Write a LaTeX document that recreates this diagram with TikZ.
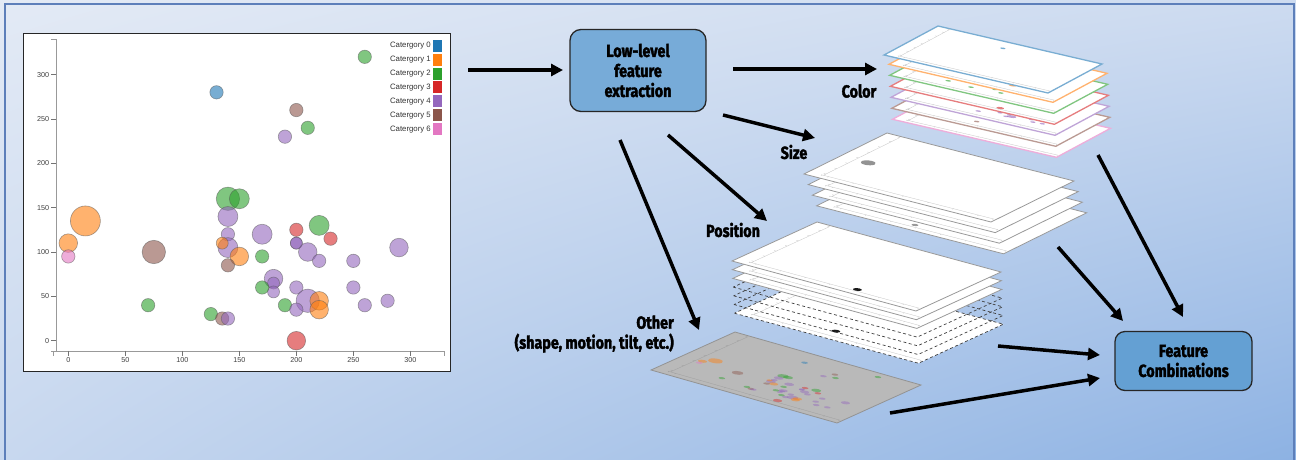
\documentclass[tikz,border=0pt]{standalone}
\usepackage{fontspec}
\setmainfont{Liberation Sans}
\newfontfamily\labfont[FakeStretch=0.82, FakeBold=2]{Fira Sans}
\usetikzlibrary{arrows.meta,shadings}
\definecolor{c0}{HTML}{1F77B4}
\definecolor{c1}{HTML}{FF7F0E}
\definecolor{c2}{HTML}{2CA02C}
\definecolor{c3}{HTML}{D62728}
\definecolor{c4}{HTML}{9467BD}
\definecolor{c5}{HTML}{8C564B}
\definecolor{c6}{HTML}{E377C2}
\definecolor{bgUL}{HTML}{E3EAF5}
\definecolor{bgUR}{HTML}{CDDBF0}
\definecolor{bgLL}{HTML}{C8D8EF}
\definecolor{bgLR}{HTML}{8DB2E3}
\definecolor{framec}{HTML}{5D7FBA}
\definecolor{boxA}{HTML}{77ABD8}
\definecolor{boxB}{HTML}{64A0D3}
\tikzset{
 arr/.style={line width=3.5pt, -{Triangle[length=12pt,width=12pt]}},
 flowbox/.style={draw=black!85, line width=1.3pt, rounded corners=11pt, align=center, inner sep=0pt, font=\labfont\bfseries\fontsize{17.5}{20}\selectfont},
 lab/.style={font=\labfont\bfseries\fontsize{17.5}{20}\selectfont, align=center, inner sep=0pt},
 datacoords/.style={shift={(0.10609,0.08964)}, x={(0.0026728,0)}, y={(0,0.0026234)}},
 ticklab/.style={font=\fontsize{7.2}{8}\selectfont, text=black!75, inner sep=0pt},
 leglab/.style={font=\fontsize{7.8}{9}\selectfont, text=black!80, inner sep=0pt, anchor=east},
 dashsheet/.style={draw=black!75, line width=0.7pt, dash pattern=on 3pt off 2.5pt},
 plainsheet/.style={fill=white, draw=gray!80, line width=0.8pt},
}
% data points: x, y, radius (px), category
\newcommand\allpts{%
\pnt{130}{280}{6.7}{0}\pnt{260}{320}{6.7}{2}\pnt{200}{260}{6.7}{5}\pnt{210}{240}{6.7}{2}%
\pnt{190}{230}{6.7}{4}\pnt{140}{160}{11.7}{2}\pnt{150}{160}{10}{2}\pnt{140}{140}{10}{4}%
\pnt{15}{135}{15}{1}\pnt{0}{110}{9.3}{1}\pnt{0}{95}{6.7}{6}\pnt{75}{100}{11.7}{5}%
\pnt{140}{120}{6.7}{4}\pnt{140}{105}{10}{4}\pnt{135}{110}{6}{1}\pnt{150}{95}{9.3}{1}%
\pnt{140}{85}{6.7}{5}\pnt{170}{95}{6.7}{2}\pnt{170}{120}{10}{4}\pnt{200}{125}{6.7}{3}%
\pnt{200}{110}{6}{4}\pnt{200}{110}{6}{4}\pnt{220}{130}{10}{2}\pnt{230}{115}{6.7}{3}%
\pnt{210}{100}{9.3}{4}\pnt{220}{90}{6.7}{4}\pnt{250}{90}{6.7}{4}\pnt{290}{105}{9.3}{4}%
\pnt{180}{70}{9.3}{4}\pnt{180}{65}{6}{4}\pnt{180}{55}{6}{4}\pnt{170}{60}{6.7}{2}%
\pnt{200}{60}{6.7}{4}\pnt{210}{45}{11.7}{4}\pnt{220}{45}{9.3}{1}\pnt{220}{35}{9.3}{1}%
\pnt{190}{40}{6.7}{2}\pnt{200}{35}{6.7}{4}\pnt{250}{60}{6.7}{4}\pnt{260}{40}{6.7}{4}%
\pnt{280}{45}{6.7}{4}\pnt{70}{40}{6.7}{2}\pnt{125}{30}{6.7}{2}\pnt{135}{25}{6.7}{5}%
\pnt{140}{25}{6.7}{4}\pnt{200}{0}{9.3}{3}}
\newcommand\pntmain[4]{\filldraw[fill=c#4, fill opacity=.6, draw=black!65, draw opacity=.55, line width=.6pt] (#1,#2) ellipse[x radius=#3/1.1413, y radius=#3/0.8867];}
\newcommand\pntcat[4]{\ifnum#4=\curcat\relax\fill[c#4, fill opacity=.6] (#1,#2) ellipse[x radius=#3/1.1413, y radius=#3/0.8867];\fi}
\newcommand\pntother[4]{\fill[c#4, fill opacity=.45] (#1,#2) ellipse[x radius=#3/1.1413, y radius=#3/0.8867];}
\newcommand\blob[4]{\fill[#4] (#1,#2) ellipse[x radius=#3/1.1413, y radius=#3/0.8867];}
\newcommand\faintaxes[1][gray!45]{%
 \draw[#1, line width=0.3pt] (-15.16,339.1) -- (-10.78,339.1) -- (-10.78,-11.6) -- (-15.16,-11.6)
   (-13,-17.2) -- (-13,-11.6) -- (330.1,-11.6) -- (330.1,-17.2);
 \foreach \t in {0,50,...,300}{\draw[#1, line width=0.3pt] (\t,-11.6) -- (\t,-17.2) (-10.78,\t) -- (-15.16,\t);}}
% sheet: Lx, Ly (px), e1 (canvas), e2 (canvas), sheet style, data content
\newcommand\sheet[8]{%
 \begin{scope}[shift={(#1,#2)}, x={(#3pt,#4pt)}, y={(#5pt,#6pt)}]
 \path[#7] (0,0) -- (1,0) -- (1,1) -- (0,1) -- cycle;
 \begin{scope}[datacoords]#8\end{scope}
 \end{scope}}
\newcommand\colsheet[3]{\sheet{#1}{#2}{164}{-38}{54}{29}{fill=white, draw=c#3!60, line width=1.3pt}{\faintaxes\def\curcat{#3}\let\pnt\pntcat\allpts}}
\begin{document}
\begin{tikzpicture}[x=1pt,y=-1pt]
\useasboundingbox (0,0) rectangle (1296,459);
\shade[upper left=bgUL, upper right=bgUR, lower left=bgLL, lower right=bgLR] (0,0) rectangle (1296,459);
\draw[draw=framec, line width=1.2pt] (5,4) rectangle (1294,470);

% ---------- scatter plot panel ----------
\node[draw=black!85, line width=1.3pt, fill=white, minimum width=427pt, minimum height=338pt, inner sep=0pt, anchor=north west] (panel) at (23,33) {};
\begin{scope}[shift={(23,371)}, x={(427pt,0pt)}, y={(0pt,338pt)}, datacoords]
 \draw[black!40, line width=0.8pt] (-15.16,339.1) -- (-10.78,339.1) -- (-10.78,-11.6) -- (-15.16,-11.6)
   (-13,-17.2) -- (-13,-11.6) -- (330.1,-11.6) -- (330.1,-17.2);
 \foreach \t in {0,50,...,300}{
  \draw[black!55, line width=0.8pt] (\t,-11.6) -- (\t,-17.2) (-10.78,\t) -- (-15.16,\t);
  \node[ticklab, anchor=east] at (-16.6,\t) {\t};
  \node[ticklab, anchor=north] at (\t,-18.6) {\t};
 }
 \let\pnt\pntmain
 \allpts
\end{scope}
\foreach \k in {0,...,6}{
 \pgfmathsetmacro\yy{45.7+13.9*\k}
 \node[leglab] (leg\k) at (431,\yy) {Catergory \k};
 \fill[c\k] (432.7,\yy-6) rectangle (441.5,\yy+6);
}

% ---------- colour stack ----------
\colsheet{892.5}{119.3}{6}
\colsheet{891.8}{108.3}{5}
\colsheet{891.1}{97.3}{4}
\colsheet{890.4}{86.3}{3}
\colsheet{889.7}{75.3}{2}
\colsheet{889}{64.3}{1}
\colsheet{884}{55}{0}

% ---------- size stack ----------
\sheet{816.6}{205.8}{187}{-48}{83}{41}{plainsheet}{\faintaxes\blob{165}{39}{7}{gray!80}\blob{141}{3}{7}{gray!80}}
\sheet{812.4}{195.2}{187}{-48}{83}{41}{plainsheet}{\faintaxes}
\sheet{808.2}{184.6}{187}{-48}{83}{41}{plainsheet}{\faintaxes}
\sheet{804}{174}{187}{-48}{83}{41}{plainsheet}{\faintaxes\blob{15}{135}{15}{gray!85}}

% ---------- position stack ----------
\sheet{734.4}{313.2}{184}{-50}{85}{39}{fill=white, dashsheet}{\faintaxes\blob{140}{25}{9}{black!90}}
\sheet{734}{304.5}{184}{-50}{85}{39}{dashsheet}{}
\sheet{733.6}{295.8}{184}{-50}{85}{39}{dashsheet}{}
\sheet{733.2}{287.1}{184}{-50}{85}{39}{dashsheet}{}
\sheet{732.8}{278.4}{184}{-50}{85}{39}{plainsheet}{\faintaxes}
\sheet{732.4}{269.7}{184}{-50}{85}{39}{plainsheet}{\faintaxes}
\sheet{732}{261}{184}{-50}{85}{39}{plainsheet}{\faintaxes\blob{200}{0}{9}{black!90}}

% ---------- other ----------
\sheet{651}{370}{186}{-53}{84}{38}{fill=gray!55, draw=gray!85, line width=0.8pt}{\faintaxes[gray!75]\let\pnt\pntother\allpts}

% ---------- boxes and labels ----------
\node[flowbox, fill=boxA, minimum width=136pt, minimum height=82pt] (ext) at (638,70.5) {Low-level\\feature\\extraction};
\node[flowbox, fill=boxB, minimum width=137pt, minimum height=59pt, rounded corners=10pt] (comb) at (1183.5,361) {Feature\\Combinations};
\node[lab] (lcolor) at (859,91) {Color};
\node[lab] (lsize) at (794,152) {Size};
\node[lab] (lpos) at (733,230) {Position};
\node[lab, align=right, anchor=east] (lother) at (674,334) {Other\\(shape, motion, tilt, etc.)};

% ---------- arrows ----------
\coordinate (plotout) at (468,70);
\coordinate (extin) at (563,70);
\coordinate (colA) at (733,69);  \coordinate (colB) at (877,69);
\coordinate (sizA) at (723,115); \coordinate (sizB) at (815,138);
\coordinate (posA) at (668,135); \coordinate (posB) at (767,221);
\coordinate (othA) at (620,140); \coordinate (othB) at (699,330);
\coordinate (colC) at (1098,155); \coordinate (combA) at (1183,317);
\coordinate (posC) at (1058,247); \coordinate (combB) at (1123,321);
\coordinate (othC) at (998,346); \coordinate (combC) at (1100,355);
\coordinate (othD) at (890,413); \coordinate (combD) at (1100,378);
\draw[arr] (plotout) -- (extin);
\draw[arr] (colA) -- (colB);
\draw[arr] (sizA) -- (sizB);
\draw[arr] (posA) -- (posB);
\draw[arr] (othA) -- (othB);
\draw[arr] (colC) -- (combA);
\draw[arr] (posC) -- (combB);
\draw[arr] (othC) -- (combC);
\draw[arr] (othD) -- (combD);
\end{tikzpicture}
\end{document}
